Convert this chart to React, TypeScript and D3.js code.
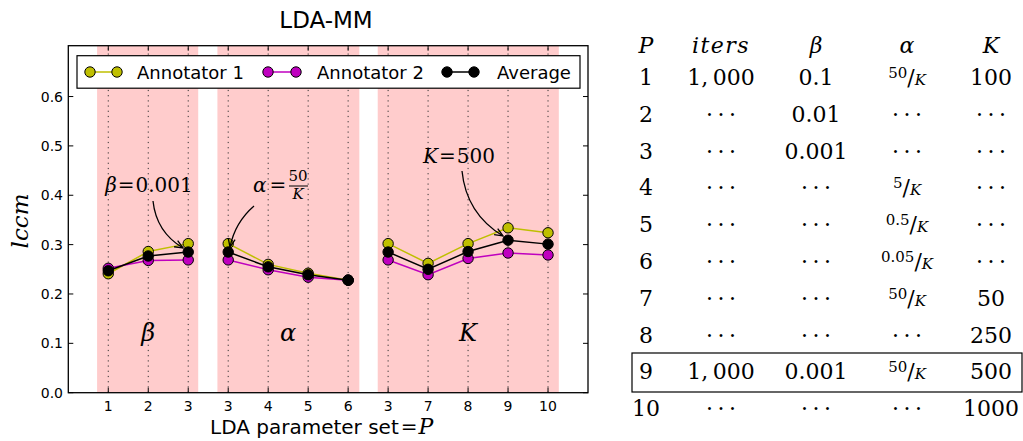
import React from 'react';
import * as d3 from 'd3';

// x positions are the 12 runs, grouped by which parameter was varied
const tickLabels = ['1', '2', '3', '3', '4', '5', '6', '3', '7', '8', '9', '10'];
const groupOf = [0, 0, 0, 1, 1, 1, 1, 2, 2, 2, 2, 2];
const groupSpans = [[-0.28, 2.25], [2.73, 6.28], [6.74, 11.27]];
const groupSymbols = ['β', 'α', 'K'];
const groupSymbolX = [1, 4.5, 9];

const annotator1 = [0.241, 0.286, 0.302, 0.302, 0.26, 0.242, 0.228, 0.302, 0.262, 0.302, 0.334, 0.324];
const annotator2 = [0.252, 0.268, 0.269, 0.269, 0.249, 0.234, 0.228, 0.269, 0.239, 0.272, 0.283, 0.279];
const average = [0.247, 0.277, 0.285, 0.285, 0.255, 0.239, 0.228, 0.285, 0.25, 0.286, 0.309, 0.301];

const yTicks = [0, 0.1, 0.2, 0.3, 0.4, 0.5, 0.6];

const series = [
  { name: 'Annotator 1', values: annotator1, color: '#bfbf00' },
  { name: 'Annotator 2', values: annotator2, color: '#bf00bf' },
  { name: 'Average', values: average, color: '#000000' },
];

// table on the right
const dots = '\u00B7\u2009\u00B7\u2009\u00B7';
const tableP = ['1', '2', '3', '4', '5', '6', '7', '8', '9', '10'];
const tableIters = ['1,\u2009000', dots, dots, dots, dots, dots, dots, dots, '1,\u2009000', dots];
const tableBeta = ['0.1', '0.01', '0.001', dots, dots, dots, dots, dots, '0.001', dots];
const tableAlpha = ['50/K', dots, dots, '5/K', '0.5/K', '0.05/K', '50/K', dots, '50/K', dots];
const tableK = ['100', dots, dots, dots, dots, dots, '50', '250', '500', '1000'];

const W = 1023;
const H = 441;
const sans = '"DejaVu Sans", sans-serif';
const serif = '"DejaVu Serif", serif';

const x = d3.scaleLinear().domain([-1, 12]).range([68.3, 588]);
const y = d3.scaleLinear().domain([0, 0.703]).range([392.7, 45.7]);

function arrow(x1: number, y1: number, x2: number, y2: number, rad: number) {
  const dx = x2 - x1, dy = y2 - y1;
  const cx = (x1 + x2) / 2 - rad * dy;
  const cy = (y1 + y2) / 2 + rad * dx;
  const p = d3.path();
  p.moveTo(x1, y1);
  p.quadraticCurveTo(cx, cy, x2, y2);
  const ang = Math.atan2(y2 - cy, x2 - cx);
  const L = 9, a = 0.4;
  const h = d3.path();
  h.moveTo(x2 - L * Math.cos(ang - a), y2 - L * Math.sin(ang - a));
  h.lineTo(x2, y2);
  h.lineTo(x2 - L * Math.cos(ang + a), y2 - L * Math.sin(ang + a));
  return (
    <g fill="none" stroke="#000" strokeWidth={1.3}>
      <path d={p.toString()} />
      <path d={h.toString()} />
    </g>
  );
}

function Frac({ v, cx, by }: { v: string; cx: number; by: number }) {
  const [num] = v.split('/');
  return (
    <text x={cx} y={by} textAnchor="middle" fontFamily={serif}>
      <tspan fontSize={15} dy={-7}>{num}</tspan>
      <tspan fontSize={22} dy={7}>/</tspan>
      <tspan fontSize={15} fontStyle="italic">K</tspan>
    </text>
  );
}

export default function App() {
  const line = d3
    .line<[number, number]>()
    .x((d) => x(d[0]))
    .y((d) => y(d[1]));

  const legendItems = [
    { m1: 90, m2: 117, tx: 137 },
    { m1: 268, m2: 296, tx: 317 },
    { m1: 447, m2: 474, tx: 497 },
  ];

  const colX = [646, 721, 816, 907, 991];
  const rowY = (i: number) => 85 + i * 36.8;
  const cols = [tableP, tableIters, tableBeta, tableAlpha, tableK];

  return (
    <svg width={W} height={H} style={{ position: 'absolute', left: 0, top: 0 }}>
      <rect width={W} height={H} fill="#fff" />
      {/* title */}
      <text x={326} y={28} textAnchor="middle" fontFamily={sans} fontSize={23}>LDA-MM</text>

      {/* shaded groups */}
      {groupSpans.map((s, i) => (
        <rect key={i} x={x(s[0])} y={y(0.703)} width={x(s[1]) - x(s[0])} height={y(0) - y(0.703)} fill="#ffcccc" />
      ))}

      {/* dotted verticals */}
      {tickLabels.map((t, i) => (
        <line key={i} x1={x(i)} x2={x(i)} y1={y(0)} y2={y(0.703)} stroke="#333" strokeWidth={1} strokeDasharray="1.2,4" />
      ))}

      {/* group symbols */}
      {groupSymbols.map((s, i) => (
        <text key={i} x={x(groupSymbolX[i])} y={y(0.12) + 8} textAnchor="middle" fontFamily={serif} fontStyle="italic" fontSize={24}>{s}</text>
      ))}

      {/* series */}
      {series.map((s) => (
        <g key={s.name}>
          {[0, 1, 2].map((g) => {
            const pts = s.values.map((v, i) => [i, v] as [number, number]).filter((d) => groupOf[d[0]] === g);
            return <path key={g} d={line(pts) || ''} fill="none" stroke={s.color} strokeWidth={1.5} />;
          })}
          {s.values.map((v, i) => (
            <circle key={i} cx={x(i)} cy={y(v)} r={5.2} fill={s.color} stroke="#000" strokeWidth={1} />
          ))}
        </g>
      ))}

      {/* annotations */}
      <text x={149} y={192} textAnchor="middle" fontFamily={serif} fontSize={20}>
        <tspan fontStyle="italic">β</tspan>
        <tspan dx={1}>=</tspan>
        <tspan dx={1}>0.001</tspan>
      </text>
      {arrow(153, 201, 183, 248, 0.25)}

      <text x={253} y={192} fontFamily={serif} fontSize={20}>
        <tspan fontStyle="italic">α</tspan>
        <tspan dx={3}>=</tspan>
      </text>
      <text x={298} y={181} textAnchor="middle" fontFamily={serif} fontSize={15}>50</text>
      <line x1={289} x2={308} y1={186} y2={186} stroke="#000" strokeWidth={1} />
      <text x={298} y={199} textAnchor="middle" fontFamily={serif} fontStyle="italic" fontSize={15}>K</text>
      {arrow(254, 206, 230, 247, 0.17)}

      <text x={459} y={163} textAnchor="middle" fontFamily={serif} fontSize={20}>
        <tspan fontStyle="italic">K</tspan>
        <tspan dx={1}>=</tspan>
        <tspan dx={1}>500</tspan>
      </text>
      {arrow(462, 171, 503, 236, 0.25)}

      {/* legend */}
      <rect x={77} y={55.7} width={503} height={32.5} fill="#fff" stroke="#000" strokeWidth={1.2} />
      {series.map((s, i) => {
        const it = legendItems[i];
        return (
          <g key={s.name}>
            <line x1={it.m1} x2={it.m2} y1={72} y2={72} stroke={s.color} strokeWidth={1.5} />
            <circle cx={it.m1} cy={72} r={5.2} fill={s.color} stroke="#000" />
            <circle cx={it.m2} cy={72} r={5.2} fill={s.color} stroke="#000" />
            <text x={it.tx} y={78.5} fontFamily={sans} fontSize={18}>{s.name}</text>
          </g>
        );
      })}

      {/* axes frame */}
      <rect x={x(-1)} y={y(0.703)} width={x(12) - x(-1)} height={y(0) - y(0.703)} fill="none" stroke="#000" strokeWidth={1.3} />
      {yTicks.map((t) => (
        <g key={t}>
          <line x1={x(-1)} x2={x(-1) + 5} y1={y(t)} y2={y(t)} stroke="#000" />
          <line x1={x(12)} x2={x(12) - 5} y1={y(t)} y2={y(t)} stroke="#000" />
          <text x={63} y={y(t) + 5} textAnchor="end" fontFamily={sans} fontSize={14}>{d3.format('.1f')(t)}</text>
        </g>
      ))}
      {tickLabels.map((t, i) => (
        <g key={i}>
          <line x1={x(i)} x2={x(i)} y1={y(0)} y2={y(0) - 5} stroke="#000" />
          <line x1={x(i)} x2={x(i)} y1={y(0.703)} y2={y(0.703) + 5} stroke="#000" />
          <text x={x(i)} y={411} textAnchor="middle" fontFamily={sans} fontSize={14}>{t}</text>
        </g>
      ))}

      {/* axis labels */}
      <text x={210} y={434} fontFamily={sans} fontSize={20}>
        LDA parameter set
        <tspan fontFamily={serif} dx={2}>=</tspan>
        <tspan fontFamily={serif} fontStyle="italic" fontSize={22} dx={1}>P</tspan>
      </text>
      <text transform="translate(28,221) rotate(-90)" textAnchor="middle" fontFamily={serif} fontStyle="italic" fontSize={23}>lccm</text>

      {/* parameter table */}
      {['P', 'iters', 'β', 'α', 'K'].map((h, j) => (
        <text key={h} x={colX[j]} y={53} textAnchor="middle" fontFamily={serif} fontStyle="italic" fontSize={22} letterSpacing={j === 1 ? 1.5 : 0}>{h}</text>
      ))}
      {cols.map((col, j) =>
        col.map((v, i) =>
          v.includes('/') ? (
            <Frac key={`${j}-${i}`} v={v} cx={colX[j]} by={rowY(i)} />
          ) : (
            <text key={`${j}-${i}`} x={colX[j]} y={rowY(i)} textAnchor="middle" fontFamily={serif} fontSize={22}>{v}</text>
          )
        )
      )}
      <rect x={632} y={353} width={390} height={39} fill="none" stroke="#000" strokeWidth={1.2} />
    </svg>
  );
}
